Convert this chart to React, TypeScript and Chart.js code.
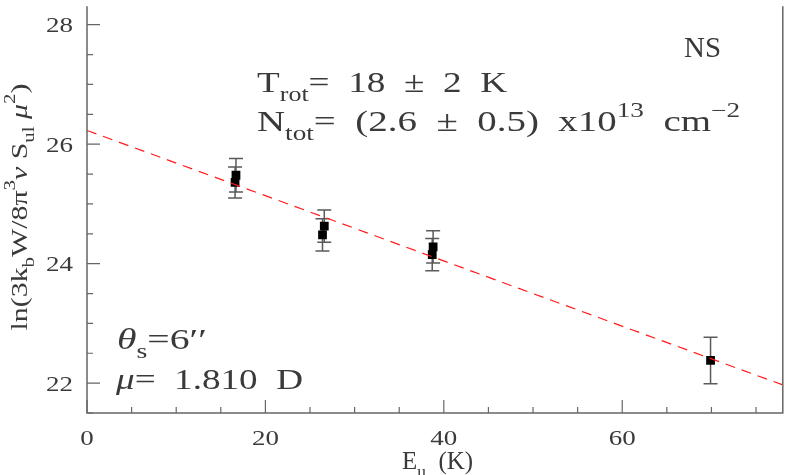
import React, { useEffect, useRef } from "react";
import { Chart, registerables } from "chart.js";

Chart.register(...registerables);

// ---- data ----
const energies = [16.7, 16.6, 26.6, 26.4, 38.8, 38.7, 69.9];
const lnValues = [25.48, 25.36, 24.63, 24.48, 24.28, 24.15, 22.38];
const lnErrors = [0.28, 0.26, 0.27, 0.27, 0.27, 0.27, 0.39];
const fitEnergies = [0, 78];
const fitValues = [26.23, 21.97];

const xMajorTicks = [0, 20, 40, 60];
const xTickLabels = ["0", "20", "40", "60"];
const xMinorTicks = [5, 10, 15, 25, 30, 35, 45, 50, 55, 65, 70, 75];
const yMajorTicks = [22, 24, 26, 28];
const yTickLabels = ["22", "24", "26", "28"];
const yMinorTicks = [21.5, 22.5, 23, 23.5, 24.5, 25, 25.5, 26.5, 27, 27.5];

const FONT = '"Liberation Serif", "DejaVu Serif", serif';
const TXT = "#3a3a3a";

type Part = { t: string; k?: "sub" | "sup"; it?: boolean };

function partFont(size: number, p: Part) {
  const s = p.k ? size * 0.7 : size;
  return `${p.it ? "italic " : ""}${s}px ${FONT}`;
}

function richWidth(ctx: CanvasRenderingContext2D, parts: Part[], size: number) {
  let w = 0;
  for (const p of parts) {
    ctx.font = partFont(size, p);
    w += ctx.measureText(p.t).width;
  }
  return w;
}

function drawRich(ctx: CanvasRenderingContext2D, parts: Part[], x: number, y: number, size: number) {
  let cx = x;
  ctx.textBaseline = "alphabetic";
  ctx.textAlign = "left";
  for (const p of parts) {
    ctx.font = partFont(size, p);
    const dy = p.k === "sub" ? size * 0.3 : p.k === "sup" ? -size * 0.5 : 0;
    ctx.fillText(p.t, cx, y + dy);
    cx += ctx.measureText(p.t).width;
  }
}

// draw rich text stretched horizontally to a target width
function drawFit(
  ctx: CanvasRenderingContext2D,
  parts: Part[],
  x: number,
  y: number,
  size: number,
  targetW: number,
  align: "left" | "center" | "right" = "left"
) {
  const w = richWidth(ctx, parts, size);
  const sx = targetW / w;
  const x0 = align === "left" ? x : align === "center" ? x - targetW / 2 : x - targetW;
  ctx.save();
  ctx.translate(x0, y);
  ctx.scale(sx, 1);
  drawRich(ctx, parts, 0, 0, size);
  ctx.restore();
}

const overlay = {
  id: "overlay",
  beforeDatasetsDraw(chart: any) {
    const ctx: CanvasRenderingContext2D = chart.ctx;
    const xs = chart.scales.x;
    const ys = chart.scales.y;
    ctx.save();
    ctx.strokeStyle = "#5a5a5a";
    ctx.lineWidth = 1.5;
    for (let i = 0; i < energies.length; i++) {
      const px = xs.getPixelForValue(energies[i]);
      const top = ys.getPixelForValue(lnValues[i] + lnErrors[i]);
      const bot = ys.getPixelForValue(lnValues[i] - lnErrors[i]);
      ctx.beginPath();
      ctx.moveTo(px, top);
      ctx.lineTo(px, bot);
      ctx.moveTo(px - 7, top);
      ctx.lineTo(px + 7, top);
      ctx.moveTo(px - 7, bot);
      ctx.lineTo(px + 7, bot);
      ctx.stroke();
    }
    ctx.restore();
  },
  afterDraw(chart: any) {
    const ctx: CanvasRenderingContext2D = chart.ctx;
    const xs = chart.scales.x;
    const ys = chart.scales.y;
    const a = chart.chartArea;
    ctx.save();
    // frame
    ctx.strokeStyle = "#666";
    ctx.lineWidth = 1.5;
    ctx.beginPath();
    ctx.moveTo(a.left, a.top);
    ctx.lineTo(a.left, a.bottom);
    ctx.lineTo(a.right, a.bottom);
    ctx.lineTo(a.right, a.top);
    ctx.stroke();
    ctx.lineWidth = 1.2;
    ctx.beginPath();
    for (const v of xMajorTicks) {
      const p = xs.getPixelForValue(v);
      ctx.moveTo(p, a.bottom);
      ctx.lineTo(p, a.bottom - 13);
    }
    for (const v of xMinorTicks) {
      const p = xs.getPixelForValue(v);
      ctx.moveTo(p, a.bottom);
      ctx.lineTo(p, a.bottom - 6);
    }
    for (const v of yMajorTicks) {
      const p = ys.getPixelForValue(v);
      ctx.moveTo(a.left, p);
      ctx.lineTo(a.left + 13, p);
    }
    for (const v of yMinorTicks) {
      const p = ys.getPixelForValue(v);
      ctx.moveTo(a.left, p);
      ctx.lineTo(a.left + 6, p);
    }
    ctx.stroke();

    // tick labels
    ctx.fillStyle = TXT;
    xMajorTicks.forEach((v, i) => {
      const t = xTickLabels[i];
      drawFit(ctx, [{ t }], xs.getPixelForValue(v), 445, 22, t.length * 13.5, "center");
    });
    yMajorTicks.forEach((v, i) => {
      const t = yTickLabels[i];
      drawFit(ctx, [{ t }], a.left - 14, ys.getPixelForValue(v) + 7.5, 22, t.length * 13.5, "right");
    });

    // x title
    drawFit(ctx, [{ t: "E" }, { t: "u", k: "sub" }, { t: "  (K)" }], 402, 469, 25, 71, "left");

    // y title (rotated)
    const yt: Part[] = [
      { t: "ln(3k" },
      { t: "b", k: "sub" },
      { t: "W/8π" },
      { t: "3", k: "sup" },
      { t: "ν", it: true },
      { t: " S" },
      { t: "ul", k: "sub" },
      { t: " μ", it: true },
      { t: "2", k: "sup" },
      { t: ")" },
    ];
    ctx.save();
    ctx.translate(27, 207);
    ctx.rotate(-Math.PI / 2);
    drawFit(ctx, yt, 0, 0, 24, 247, "center");
    ctx.restore();

    // annotations
    const big = 29;
    drawFit(ctx, [{ t: "NS" }], 684, 57, big, 37, "left");
    drawFit(ctx, [{ t: "T" }, { t: "rot", k: "sub" }, { t: "=  18  ±  2  K" }], 257, 92, big, 250, "left");
    drawFit(
      ctx,
      [
        { t: "N" },
        { t: "tot", k: "sub" },
        { t: "=  (2.6  ±  0.5)  x10" },
        { t: "13", k: "sup" },
        { t: "  cm" },
        { t: "−2", k: "sup" },
      ],
      257,
      131,
      big,
      483,
      "left"
    );
    drawFit(ctx, [{ t: "θ", it: true }, { t: "s", k: "sub" }, { t: "=6′′" }], 117, 349, big, 90, "left");
    drawFit(ctx, [{ t: "μ", it: true }, { t: "=  1.810  D" }], 116, 389, big, 187, "left");
    ctx.restore();
  },
};

export default function App() {
  const ref = useRef<HTMLCanvasElement>(null);
  useEffect(() => {
    document.body.style.margin = "0";
    const pts = energies.map((e, i) => ({ x: e, y: lnValues[i] }));
    const fit = fitEnergies.map((e, i) => ({ x: e, y: fitValues[i] }));
    const chart = new Chart(ref.current!, {
      type: "scatter",
      data: {
        datasets: [
          {
            type: "line",
            data: fit,
            borderColor: "#ff1a1a",
            borderWidth: 1.2,
            borderDash: [10, 7],
            pointRadius: 0,
            fill: false,
          } as any,
          {
            data: pts,
            pointStyle: "rect",
            pointRadius: 6.2,
            backgroundColor: "#000",
            borderColor: "#000",
            borderWidth: 0,
          },
        ],
      },
      options: {
        animation: false,
        responsive: true,
        maintainAspectRatio: false,
        layout: { padding: { left: 87, right: 1, top: 0, bottom: 62 } },
        plugins: { legend: { display: false }, tooltip: { enabled: false } },
        scales: {
          x: { type: "linear", min: 0, max: 78, display: false },
          y: { type: "linear", min: 21.5, max: 28.31, display: false },
        },
      },
      plugins: [overlay],
    });
    return () => chart.destroy();
  }, []);
  return (
    <div style={{ width: 789, height: 475, position: "relative", background: "#fff" }}>
      <canvas ref={ref} />
    </div>
  );
}
